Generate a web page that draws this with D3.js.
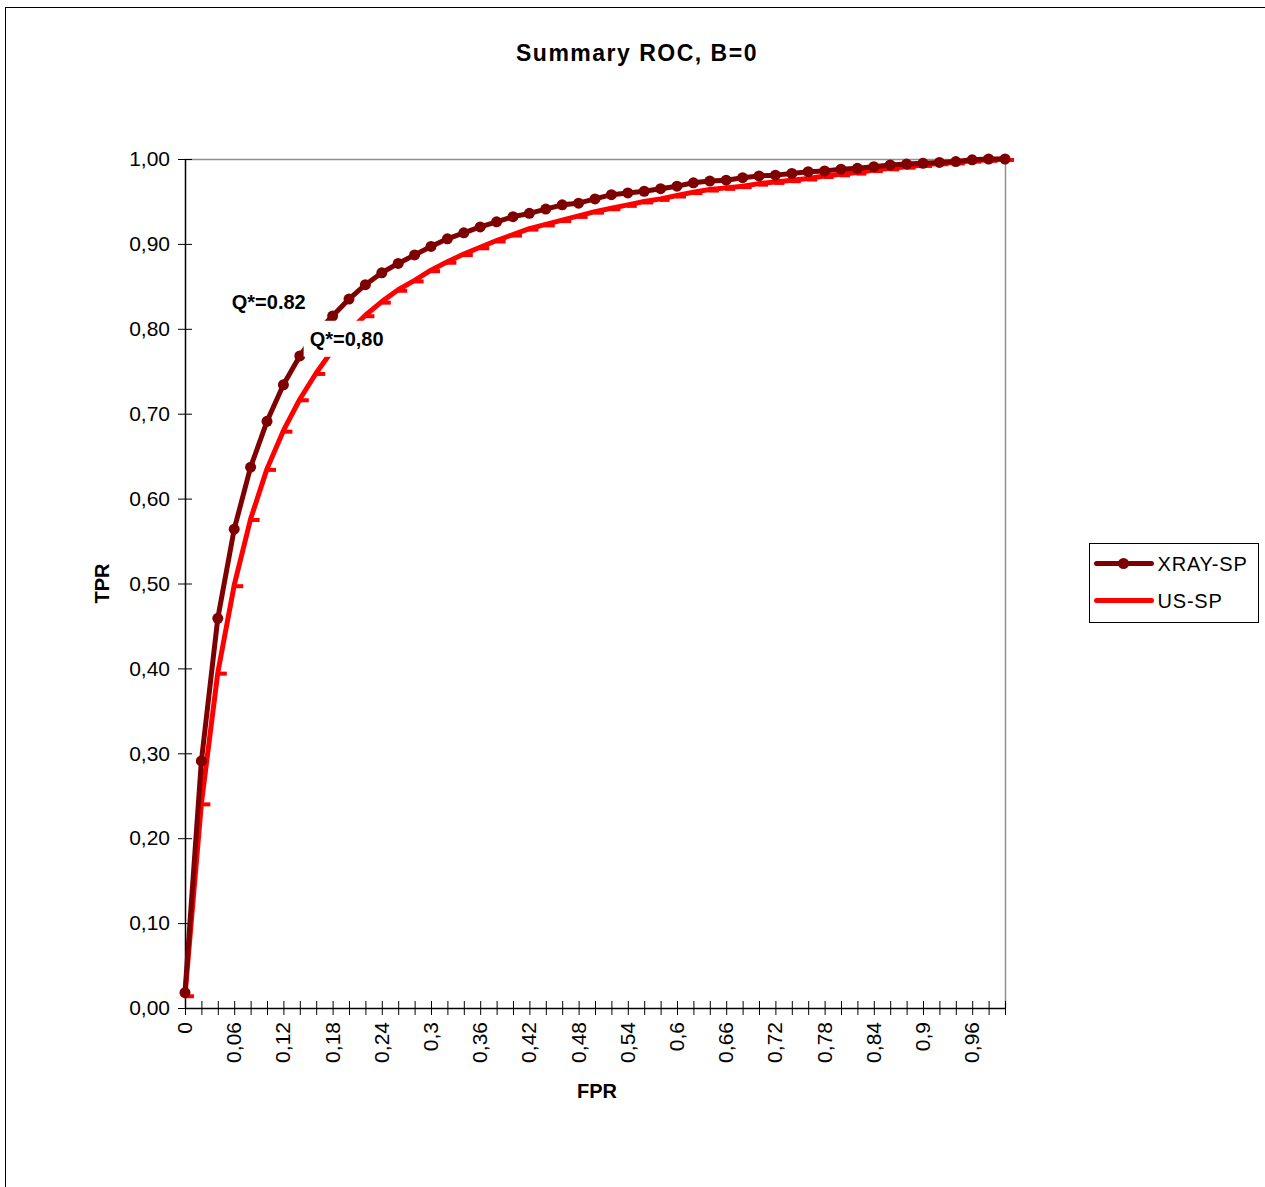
<!DOCTYPE html>
<html>
<head>
<meta charset="utf-8">
<script src="https://cdn.jsdelivr.net/npm/d3@7"></script>
<style>
  body { margin: 0; background: #fff; }
  text { font-family: "Liberation Sans", Arial, sans-serif; }
</style>
</head>
<body>
<div id="chart"></div>
<script>
// FPR categories (0 .. 1 step 0,02)
const fpr = [0, 0.02, 0.04, 0.06, 0.08, 0.10, 0.12, 0.14, 0.16, 0.18, 0.20,
  0.22, 0.24, 0.26, 0.28, 0.30, 0.32, 0.34, 0.36, 0.38, 0.40,
  0.42, 0.44, 0.46, 0.48, 0.50, 0.52, 0.54, 0.56, 0.58, 0.60,
  0.62, 0.64, 0.66, 0.68, 0.70, 0.72, 0.74, 0.76, 0.78, 0.80,
  0.82, 0.84, 0.86, 0.88, 0.90, 0.92, 0.94, 0.96, 0.98, 1.00];

const xraySP = [0.018, 0.291, 0.459, 0.564, 0.637, 0.691, 0.734, 0.768, 0.795, 0.815, 0.835,
  0.852, 0.866, 0.877, 0.887, 0.897, 0.906, 0.913, 0.920, 0.926, 0.932,
  0.936, 0.941, 0.946, 0.948, 0.953, 0.958, 0.960, 0.962, 0.965, 0.968,
  0.972, 0.974, 0.975, 0.978, 0.980, 0.981, 0.983, 0.985, 0.986, 0.988,
  0.989, 0.991, 0.993, 0.994, 0.995, 0.996, 0.997, 0.999, 1.000, 1.000];

const usSP = [0.015, 0.241, 0.395, 0.498, 0.576, 0.635, 0.680, 0.717, 0.748, 0.775, 0.797,
  0.816, 0.832, 0.846, 0.857, 0.869, 0.879, 0.888, 0.896, 0.904, 0.911,
  0.918, 0.923, 0.928, 0.933, 0.938, 0.942, 0.946, 0.950, 0.953, 0.957,
  0.961, 0.964, 0.966, 0.968, 0.971, 0.973, 0.975, 0.977, 0.980, 0.982,
  0.984, 0.987, 0.989, 0.991, 0.993, 0.995, 0.996, 0.998, 0.999, 1.000];

const xTickLabels = ["0", "0,06", "0,12", "0,18", "0,24", "0,3", "0,36", "0,42", "0,48",
  "0,54", "0,6", "0,66", "0,72", "0,78", "0,84", "0,9", "0,96"];
const xTickValues = [0, 0.06, 0.12, 0.18, 0.24, 0.30, 0.36, 0.42, 0.48,
  0.54, 0.60, 0.66, 0.72, 0.78, 0.84, 0.90, 0.96];
const yTickValues = [0, 0.1, 0.2, 0.3, 0.4, 0.5, 0.6, 0.7, 0.8, 0.9, 1.0];
const yTickLabels = ["0,00", "0,10", "0,20", "0,30", "0,40", "0,50", "0,60", "0,70", "0,80", "0,90", "1,00"];

const seriesNames = ["XRAY-SP", "US-SP"];
const annotations = [
  {text: "Q*=0.82", x: 0.057, y: 0.823},
  {text: "Q*=0,80", x: 0.152, y: 0.78}
];

const W = 1265, H = 1187;
const plot = {left: 185, right: 1005, top: 159, bottom: 1008};
const darkRed = "#7f0000", red = "#ff0000";

const svg = d3.select("#chart").append("svg")
  .attr("width", W).attr("height", H);

// chart area border (only left/top visible)
svg.append("rect")
  .attr("x", 5.5).attr("y", 7.5)
  .attr("width", 1400).attr("height", 1400)
  .attr("fill", "#fff").attr("stroke", "#000").attr("stroke-width", 1);

const x = d3.scaleLinear().domain([0, 1]).range([plot.left, plot.right]);
const y = d3.scaleLinear().domain([0, 1]).range([plot.bottom, plot.top]);

// plot area frame: gray top and right
svg.append("path")
  .attr("d", `M${plot.left},${plot.top + 0.5}H${plot.right + 0.5}V${plot.bottom}`)
  .attr("fill", "none").attr("stroke", "#909090").attr("stroke-width", 1.5);

// Title
svg.append("text")
  .attr("x", 637).attr("y", 61)
  .attr("text-anchor", "middle")
  .attr("font-size", "23px").attr("font-weight", "bold")
  .attr("letter-spacing", "1.5px")
  .text("Summary ROC, B=0");

// Y axis
const yAxis = d3.axisLeft(y).tickValues(yTickValues)
  .tickFormat((d, i) => yTickLabels[i]).tickSizeInner(7).tickSizeOuter(0).tickPadding(8);
const gy = svg.append("g").attr("transform", `translate(${plot.left},0)`).call(yAxis);
gy.select(".domain").attr("stroke", "#000").attr("stroke-width", 1.5);
gy.selectAll(".tick line").attr("x2", -7).attr("x1", 7).attr("stroke", "#000");
gy.selectAll(".tick text").attr("font-size", "21px").attr("fill", "#000")
  .attr("font-family", "Liberation Sans, Arial, sans-serif").attr("x", -15);

// X axis: tick at every category, label every third
const xAxis = d3.axisBottom(x).tickValues(fpr).tickFormat("").tickSizeInner(7).tickSizeOuter(0);
const gx = svg.append("g").attr("transform", `translate(0,${plot.bottom})`).call(xAxis);
gx.select(".domain").attr("stroke", "#000").attr("stroke-width", 1.5);
gx.selectAll(".tick line").attr("y1", -7).attr("y2", 7).attr("stroke", "#000");

svg.append("g").selectAll("text")
  .data(xTickValues)
  .join("text")
  .attr("transform", d => `translate(${x(d) + 7},${plot.bottom + 14}) rotate(-90)`)
  .attr("text-anchor", "end")
  .attr("font-size", "21px")
  .text((d, i) => xTickLabels[i]);

// Axis titles
svg.append("text")
  .attr("transform", `translate(109,${(plot.top + plot.bottom) / 2}) rotate(-90)`)
  .attr("text-anchor", "middle")
  .attr("font-size", "20px").attr("font-weight", "bold")
  .text("TPR");
svg.append("text")
  .attr("x", 597).attr("y", 1098)
  .attr("text-anchor", "middle")
  .attr("font-size", "20px").attr("font-weight", "bold")
  .text("FPR");

const line = d3.line().x((d, i) => x(fpr[i])).y(d => y(d));

// US-SP (red, dash markers)
svg.append("path").datum(usSP)
  .attr("d", line).attr("fill", "none")
  .attr("stroke", red).attr("stroke-width", 5).attr("stroke-linejoin", "round");
svg.append("g").selectAll("rect").data(usSP).join("rect")
  .attr("x", (d, i) => x(fpr[i]) - 1).attr("y", d => y(d) - 1)
  .attr("width", 10).attr("height", 4).attr("fill", red);

// XRAY-SP (dark red, circle markers)
svg.append("path").datum(xraySP)
  .attr("d", line).attr("fill", "none")
  .attr("stroke", darkRed).attr("stroke-width", 5).attr("stroke-linejoin", "round");
svg.append("g").selectAll("circle").data(xraySP).join("circle")
  .attr("cx", (d, i) => x(fpr[i])).attr("cy", d => y(d))
  .attr("r", 5.5).attr("fill", darkRed);

// Annotation labels with white background
annotations.forEach(a => {
  const g = svg.append("g");
  const t = g.append("text")
    .attr("x", x(a.x)).attr("y", y(a.y))
    .attr("font-size", "20px").attr("font-weight", "bold")
    .text(a.text);
  const bb = t.node().getBBox();
  g.insert("rect", "text")
    .attr("x", bb.x - 6).attr("y", bb.y - 7)
    .attr("width", bb.width + 12).attr("height", bb.height + 14)
    .attr("fill", "#fff");
});

// Legend
const legend = svg.append("g").attr("transform", "translate(1089.5,543.5)");
legend.append("rect").attr("width", 169).attr("height", 79)
  .attr("fill", "#fff").attr("stroke", "#000").attr("stroke-width", 1);
const colors = [darkRed, red];
seriesNames.forEach((name, i) => {
  const ly = 20 + i * 37;
  legend.append("line").attr("x1", 7).attr("x2", 62).attr("y1", ly).attr("y2", ly)
    .attr("stroke", colors[i]).attr("stroke-width", 5).attr("stroke-linecap", "round");
  if (i === 0) {
    legend.append("circle").attr("cx", 34).attr("cy", ly).attr("r", 5.5).attr("fill", darkRed);
  }
  legend.append("text").attr("x", 68).attr("y", ly + 7)
    .attr("font-size", "20px").attr("letter-spacing", "0.8px").text(name);
});
</script>
</body>
</html>
